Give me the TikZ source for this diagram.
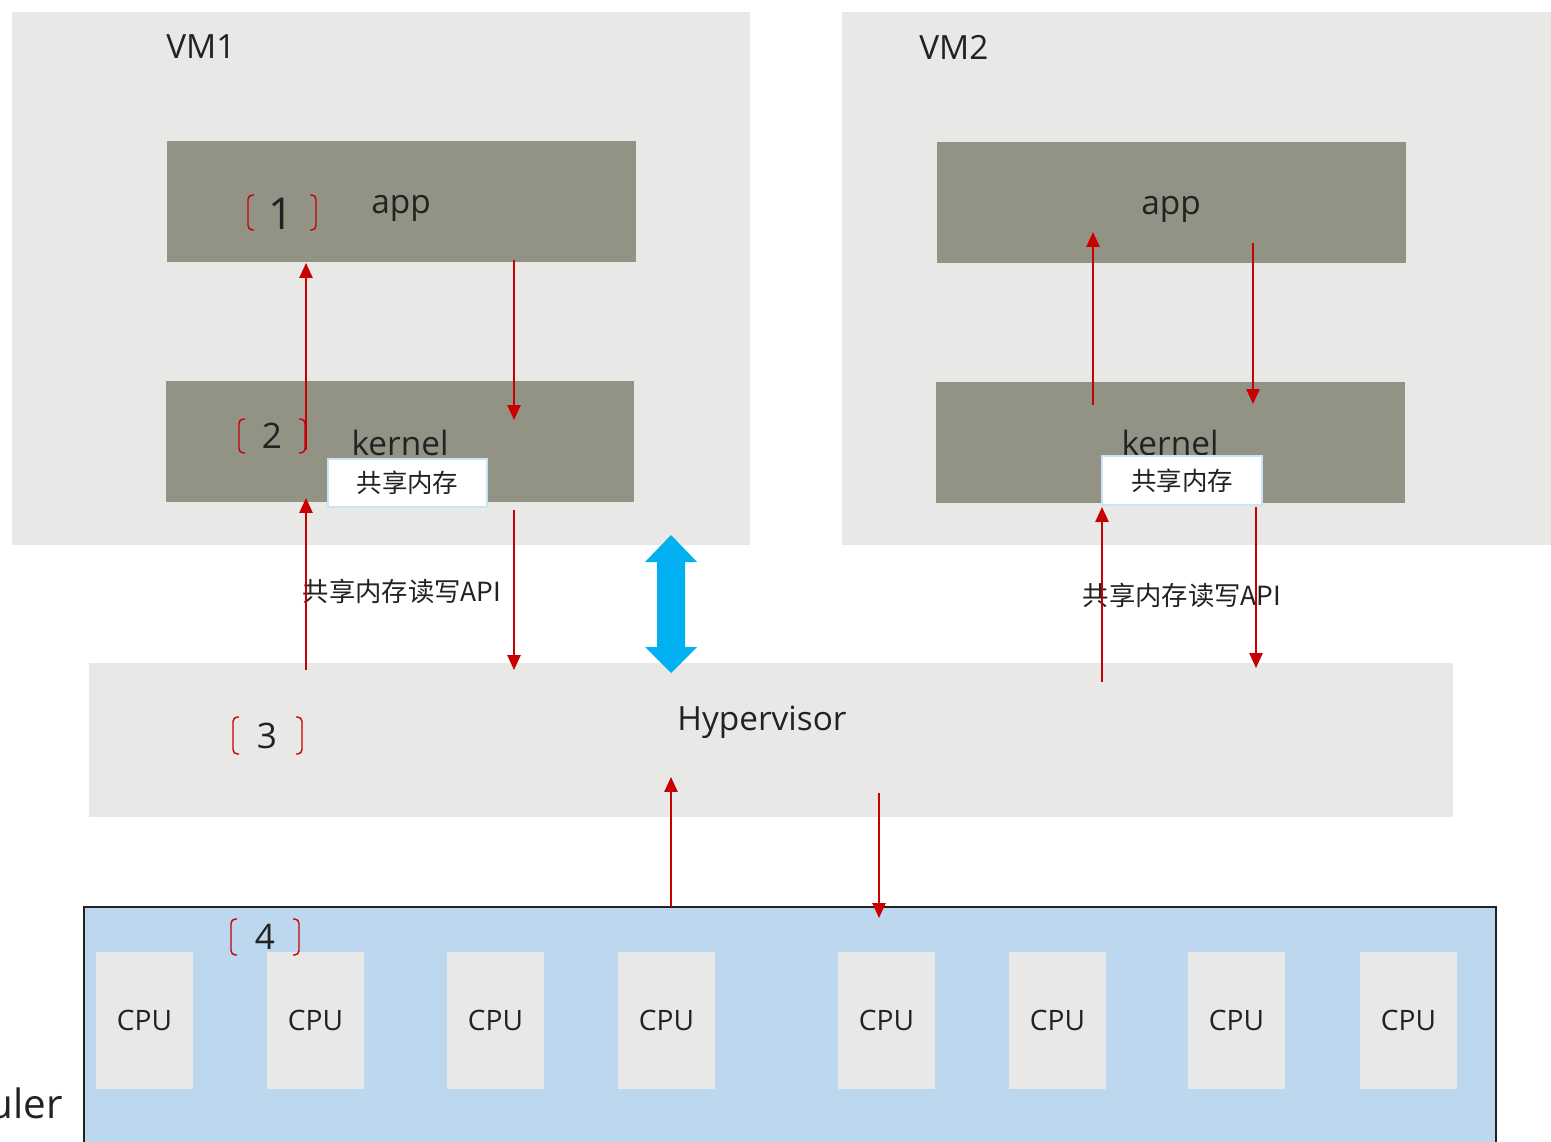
\documentclass[tikz,border=0pt]{standalone}
\usepackage{fontspec}
\setmainfont{Open Sans}
\newfontfamily\cjk{Noto Sans CJK SC}
\usetikzlibrary{arrows.meta}
\definecolor{bggray}{HTML}{E8E8E7}
\definecolor{layergray}{HTML}{939385}
\definecolor{arrowred}{HTML}{C80000}
\definecolor{cpublue}{HTML}{BDD7EE}
\definecolor{cyanarrow}{HTML}{00B0F0}
\definecolor{shmborder}{HTML}{C9E4F7}
\definecolor{txt}{HTML}{222222}
\tikzset{
  wh/.style 2 args={minimum width=#1*0.02cm, minimum height=#2*0.02cm},
  plainbox/.style={inner sep=0pt, outer sep=0pt, draw=none},
  bgbox/.style={plainbox, fill=bggray},
  layerbox/.style={plainbox, fill=layergray, text=txt, font=\fontsize{19}{21}\selectfont},
  shmbox/.style={plainbox, fill=white, draw=shmborder, line width=1.1pt, text=txt, font=\cjk\fontsize{14.5}{16}\selectfont},
  cpubox/.style={plainbox, fill=bggray, text=txt, font=\fontsize{16}{18}\selectfont},
  label/.style={inner sep=0pt, text=txt, font=\fontsize{19}{21}\selectfont},
  apilabel/.style={inner sep=0pt, text=txt, font=\cjk\fontsize{15}{17}\selectfont},
  numlabel/.style={inner sep=0pt, text=txt, font=\fontsize{20}{22}\selectfont},
  bracketline/.style={draw=arrowred, line width=0.8pt, rounded corners=2.5pt},
  redarrow/.style={draw=arrowred, line width=1.1pt, -{Triangle[length=8.5pt,width=7.5pt]}},
}
\newcommand{\mybrackets}[4]{% x-left, x-right, y-top, y-bottom
  \draw[bracketline] (#1+6,#3) -- (#1,#3) -- (#1,#4) -- (#1+6,#4);
  \draw[bracketline] (#2-6,#3) -- (#2,#3) -- (#2,#4) -- (#2-6,#4);
}
\begin{document}
\begin{tikzpicture}[x=0.02cm, y=-0.02cm]
\useasboundingbox (0,0) rectangle (1551,1142);
\fill[white] (0,0) rectangle (1551,1142);

% VM backgrounds
\node[bgbox, wh={738}{533}] (vm1) at (381,278.5) {};
\node[bgbox, wh={709}{533}] (vm2) at (1196.5,278.5) {};
\node[label, anchor=west] (vm1lab) at (166,47) {VM1};
\node[label, anchor=west] (vm2lab) at (919,47) {VM2};

% layers
\node[layerbox, wh={469}{121}] (app1) at (401.5,201.5) {};
\node[layerbox, wh={468}{121}] (kern1) at (400,441.5) {};
\node[layerbox, wh={469}{121}] (app2) at (1171.5,202.5) {};
\node[layerbox, wh={469}{121}] (kern2) at (1170.5,442.5) {};
\node[label] (app1t) at (401,208) {app};
\node[label] (kern1t) at (400,443) {kernel};
\node[label] (app2t) at (1171,209) {app};
\node[label] (kern2t) at (1170,443) {kernel};

% shared memory boxes
\node[shmbox, wh={159}{48}] (shm1) at (407.5,483) {共享内存};
\node[shmbox, wh={160}{49}] (shm2) at (1182,480.5) {共享内存};

% hypervisor
\node[bgbox, wh={1364}{154}] (hyp) at (771,740) {};
\node[label] (hypt) at (762,722) {Hypervisor};

% CPU area
\fill[cpublue] (84,907) rectangle (1496,1142);
\draw[line width=1.2pt, draw=txt] (84,1142) -- (84,907) -- (1496,907) -- (1496,1142);
\coordinate (cpuarea) at (790,1024);
\foreach \cx [count=\i] in {144.5,315.5,495.5,666.5,886.5,1057.5,1236.5,1408.5}{
  \node[cpubox, wh={97}{137}] (cpu\i) at (\cx,1020.5) {CPU};
}
\node[inner sep=0pt, anchor=base east, text=txt, font=\fontsize{23}{25}\selectfont] (sched) at (63,1118) {uler};

% API labels
\node[apilabel] (api1) at (402,591) {共享内存读写API};
\node[apilabel] (api2) at (1182,595) {共享内存读写API};

% bracket numbers
\mybrackets{248}{316}{195}{230}
\node[inner sep=0pt, text=txt, font=\fontsize{25}{27}\selectfont] (n1) at (281,214) {1};
\mybrackets{239}{305}{419}{453}
\node[numlabel] (n2) at (272,436) {2};
\mybrackets{233}{302}{717}{754}
\node[numlabel] (n3) at (267,736) {3};
\mybrackets{231}{299}{919}{955}
\node[numlabel] (n4) at (265,937) {4};

% arrow coordinates
\coordinate (a1s) at (306,670); \coordinate (a1e) at (306,498);
\coordinate (a2s) at (306,450); \coordinate (a2e) at (306,263);
\coordinate (a3s) at (514,260); \coordinate (a3e) at (514,420);
\coordinate (a4s) at (514,510); \coordinate (a4e) at (514,670);
\coordinate (b1s) at (1093,405); \coordinate (b1e) at (1093,232);
\coordinate (b2s) at (1253,243); \coordinate (b2e) at (1253,404);
\coordinate (b3s) at (1102,682); \coordinate (b3e) at (1102,507);
\coordinate (b4s) at (1256,507); \coordinate (b4e) at (1256,668);
\coordinate (c1s) at (671,907); \coordinate (c1e) at (671,777);
\coordinate (c2s) at (879,793); \coordinate (c2e) at (879,918);

\draw[redarrow] (a1s) -- (a1e);
\draw[redarrow] (a2s) -- (a2e);
\draw[redarrow] (a3s) -- (a3e);
\draw[redarrow] (a4s) -- (a4e);
\draw[redarrow] (b1s) -- (b1e);
\draw[redarrow] (b2s) -- (b2e);
\draw[redarrow] (b3s) -- (b3e);
\draw[redarrow] (b4s) -- (b4e);
\draw[redarrow] (c1s) -- (c1e);
\draw[redarrow] (c2s) -- (c2e);

% blue double arrow between VM1 and hypervisor
\fill[cyanarrow] (671,535) -- (697,562) -- (685,562) -- (685,647) -- (697,647) -- (671,673)
  -- (645,647) -- (657,647) -- (657,562) -- (645,562) -- cycle;
\end{tikzpicture}
\end{document}
